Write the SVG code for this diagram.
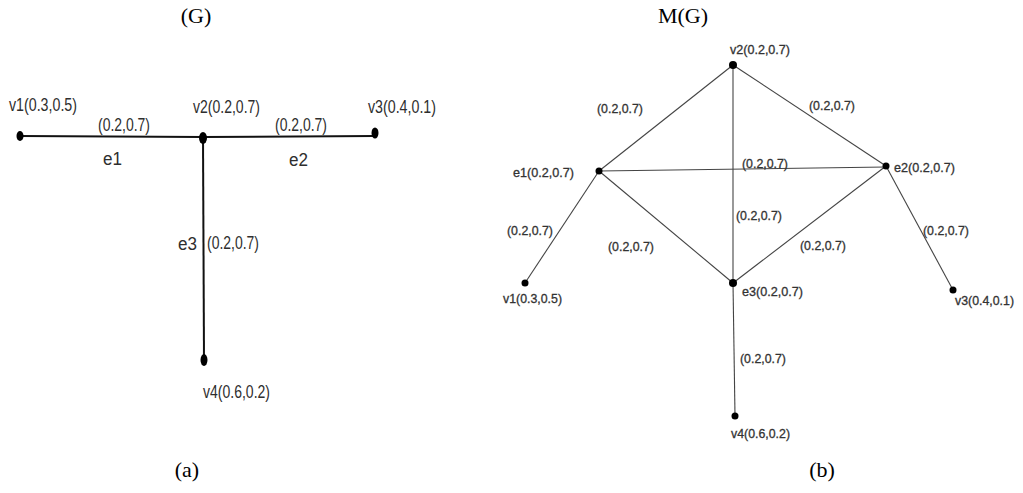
<svg xmlns="http://www.w3.org/2000/svg" width="1023" height="493" viewBox="0 0 1023 493">
<style>
.t{font-family:"Times New Roman","Liberation Serif",serif;font-size:22px;fill:#000}
.l{font-family:"Liberation Sans",Arial,sans-serif;font-size:18px;fill:#2e2e2e}
.r{font-family:"Liberation Sans",Arial,sans-serif;font-size:12px;fill:#333;stroke:#333;stroke-width:0.3}
.el{stroke:#111;stroke-width:2;fill:none}
.er{stroke:#444;stroke-width:1.1;fill:none}
.d{fill:#000}
</style>
<rect width="1023" height="493" fill="#fff"/>
<text class="t" x="196" y="23" text-anchor="middle">(G)</text>
<text class="t" x="683" y="23" text-anchor="middle">M(G)</text>
<text class="t" x="187" y="477" text-anchor="middle">(a)</text>
<text class="t" x="822" y="477" text-anchor="middle">(b)</text>
<g id="connectors">
<line class="el" x1="20" y1="136" x2="203" y2="137"/>
<line class="el" x1="203" y1="137" x2="375" y2="136"/>
<line class="el" x1="203" y1="137" x2="204" y2="360"/>
<line class="er" x1="733" y1="65" x2="599" y2="171"/>
<line class="er" x1="733" y1="65" x2="886" y2="166"/>
<line class="er" x1="733" y1="65" x2="733" y2="283"/>
<line class="er" x1="599" y1="171" x2="886" y2="167"/>
<line class="er" x1="599" y1="171" x2="733" y2="283"/>
<line class="er" x1="886" y1="166" x2="733" y2="283"/>
<line class="er" x1="599" y1="171" x2="525" y2="283"/>
<line class="er" x1="886" y1="166" x2="953" y2="290"/>
<line class="er" x1="733" y1="283" x2="735" y2="416"/>
</g>
<g id="edge-labels-a">
<text class="l" x="98" y="131" textLength="52" lengthAdjust="spacingAndGlyphs">(0.2,0.7)</text>
<text class="l" x="275" y="131" textLength="52" lengthAdjust="spacingAndGlyphs">(0.2,0.7)</text>
<text class="l" x="207" y="249" textLength="52" lengthAdjust="spacingAndGlyphs">(0.2,0.7)</text>
<text class="l" x="103" y="165" textLength="19" lengthAdjust="spacingAndGlyphs">e1</text>
<text class="l" x="289" y="166" textLength="19" lengthAdjust="spacingAndGlyphs">e2</text>
<text class="l" x="178" y="250" textLength="19" lengthAdjust="spacingAndGlyphs">e3</text>
</g>
<g id="a-v1"><ellipse class="d" cx="20" cy="136" rx="3.5" ry="5"/><text class="l" x="9" y="111" textLength="68" lengthAdjust="spacingAndGlyphs">v1(0.3,0.5)</text></g>
<g id="a-v2"><ellipse class="d" cx="203" cy="138" rx="4" ry="6"/><text class="l" x="193" y="113" textLength="67" lengthAdjust="spacingAndGlyphs">v2(0.2,0.7)</text></g>
<g id="a-v3"><ellipse class="d" cx="375" cy="133" rx="3.5" ry="5.5"/><text class="l" x="368" y="113" textLength="68" lengthAdjust="spacingAndGlyphs">v3(0.4,0.1)</text></g>
<g id="a-v4"><ellipse class="d" cx="204" cy="360" rx="3.5" ry="6"/><text class="l" x="203" y="398" textLength="67" lengthAdjust="spacingAndGlyphs">v4(0.6,0.2)</text></g>
<g id="edge-labels-b">
<text class="r" x="597" y="113" textLength="46" lengthAdjust="spacingAndGlyphs">(0.2,0.7)</text>
<text class="r" x="809" y="110" textLength="46" lengthAdjust="spacingAndGlyphs">(0.2,0.7)</text>
<text class="r" x="742" y="168" textLength="46" lengthAdjust="spacingAndGlyphs">(0.2,0.7)</text>
<text class="r" x="507" y="235" textLength="46" lengthAdjust="spacingAndGlyphs">(0.2,0.7)</text>
<text class="r" x="608" y="251" textLength="46" lengthAdjust="spacingAndGlyphs">(0.2,0.7)</text>
<text class="r" x="736" y="220" textLength="46" lengthAdjust="spacingAndGlyphs">(0.2,0.7)</text>
<text class="r" x="800" y="250" textLength="46" lengthAdjust="spacingAndGlyphs">(0.2,0.7)</text>
<text class="r" x="923" y="235" textLength="46" lengthAdjust="spacingAndGlyphs">(0.2,0.7)</text>
<text class="r" x="740" y="363" textLength="46" lengthAdjust="spacingAndGlyphs">(0.2,0.7)</text>
</g>
<g id="b-v2"><circle class="d" cx="733" cy="65" r="4"/><text class="r" x="730" y="54" textLength="60" lengthAdjust="spacingAndGlyphs">v2(0.2,0.7)</text></g>
<g id="b-e1"><circle class="d" cx="599" cy="171" r="3.5"/><text class="r" x="513" y="177" textLength="61" lengthAdjust="spacingAndGlyphs">e1(0.2,0.7)</text></g>
<g id="b-e2"><circle class="d" cx="886" cy="166" r="3.5"/><text class="r" x="894" y="172" textLength="61" lengthAdjust="spacingAndGlyphs">e2(0.2,0.7)</text></g>
<g id="b-e3"><circle class="d" cx="733" cy="283" r="4"/><text class="r" x="742" y="296" textLength="61" lengthAdjust="spacingAndGlyphs">e3(0.2,0.7)</text></g>
<g id="b-v1"><circle class="d" cx="525" cy="283" r="3.5"/><text class="r" x="503" y="303" textLength="59" lengthAdjust="spacingAndGlyphs">v1(0.3,0.5)</text></g>
<g id="b-v3"><circle class="d" cx="953" cy="290" r="3.5"/><text class="r" x="955" y="305" textLength="59" lengthAdjust="spacingAndGlyphs">v3(0.4,0.1)</text></g>
<g id="b-v4"><circle class="d" cx="735" cy="416" r="3.5"/><text class="r" x="731" y="438" textLength="59" lengthAdjust="spacingAndGlyphs">v4(0.6,0.2)</text></g>
</svg>
